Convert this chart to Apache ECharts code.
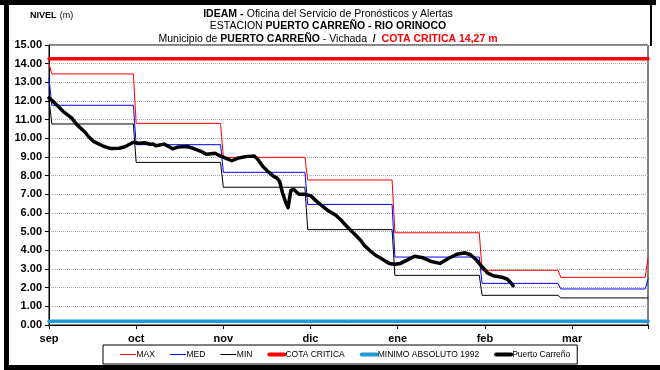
<!DOCTYPE html>
<html>
<head>
<meta charset="utf-8">
<script src="https://cdn.jsdelivr.net/npm/echarts@6/dist/echarts.min.js"></script>
<style>
  html, body { margin: 0; padding: 0; background: #fff; }
  #chart { width: 660px; height: 370px; }
</style>
</head>
<body>
<div id="chart"></div>
<script>
// Month tick labels; the x axis counts days, day 0 = 31 ago, one tick every 31 days
const monthLabels = ['sep', 'oct', 'nov', 'dic', 'ene', 'feb', 'mar'];
// Day index of the first day of each month (sep .. mar) and of 1 abr
const monthStartDays = [1, 31, 62, 92, 123, 154, 182];
const lastDay = 213;

// Monthly historical levels (m)
const maxMonthly = [13.45, 10.80, 8.98, 7.77, 4.94, 2.93, 2.55];
const medMonthly = [11.77, 9.66, 8.18, 6.46, 3.64, 2.23, 1.93];
const minMonthly = [10.77, 8.71, 7.38, 5.11, 2.66, 1.59, 1.45];
// Values on 31 ago and 1 abr
const maxEnds = [14.00, 3.60];
const medEnds = [13.20, 2.45];
const minEnds = [12.10, 1.45];

const cotaCritica = 14.27;
const minimoAbsoluto1992 = 0.20;

// Observed daily level at Puerto Carreño
const carrenoDays = [0, 2, 5, 8, 10, 13, 14, 16, 19, 22, 25, 27, 30, 32, 34, 36, 37, 38, 41, 44,
  46, 49, 51, 54, 56, 59, 61, 63, 65, 67, 70, 73, 74, 76, 78, 80, 81, 82, 83, 84,
  85, 86, 87, 88, 89, 91, 93, 95, 97, 99, 102, 104, 105, 107, 109, 111, 112, 114, 116, 118,
  120, 121, 123, 125, 128, 130, 133, 136, 139, 142, 145, 148, 150, 152, 154, 156, 158, 161, 163, 164, 165];
const carrenoLevels = [12.17, 11.90, 11.45, 11.10, 10.72, 10.30, 10.10, 9.82, 9.60, 9.45, 9.47, 9.55, 9.79, 9.74, 9.76, 9.68, 9.70, 9.60, 9.69, 9.44,
  9.54, 9.56, 9.48, 9.30, 9.15, 9.20, 9.05, 8.93, 8.80, 8.93, 9.02, 9.05, 8.92, 8.50, 8.20, 7.95, 7.88, 7.70, 7.10, 6.65,
  6.28, 7.20, 7.28, 7.12, 7.00, 7.00, 6.93, 6.65, 6.40, 6.15, 5.88, 5.60, 5.42, 5.12, 4.82, 4.50, 4.28, 4.00, 3.75, 3.58,
  3.38, 3.30, 3.25, 3.30, 3.53, 3.68, 3.60, 3.40, 3.30, 3.56, 3.79, 3.87, 3.75, 3.48, 3.12, 2.78, 2.64, 2.56, 2.45, 2.30, 2.10];

// Monthly values held flat over each month
function monthlySteps(monthly, ends) {
  const pts = [[0, ends[0]]];
  monthly.forEach((v, i) => {
    const start = monthStartDays[i];
    const end = i + 1 < monthStartDays.length ? monthStartDays[i + 1] - 1 : lastDay - 1;
    pts.push([start, v], [end, v]);
  });
  pts.push([lastDay, ends[1]]);
  return pts;
}
const flat = v => [[0, v], [lastDay, v]];
const carreno = carrenoDays.map((d, i) => [d, carrenoLevels[i]]);

const sans = "'Liberation Sans', Arial, sans-serif";

const lineSeries = (name, data, color, width, z) => ({
  name, type: 'line', data, symbol: 'none', z,
  lineStyle: { color, width, join: 'round', cap: 'round' },
  itemStyle: { color },
  animation: false
});

const legendItem = (name, width) => ({ name, lineStyle: { width } });

const chart = echarts.init(document.getElementById('chart'), null, { renderer: 'canvas' });
chart.setOption({
  animation: false,
  grid: { left: 49, right: 12, top: 45, bottom: 45, show: true, borderColor: '#000', borderWidth: 1, backgroundColor: 'transparent' },
  xAxis: {
    type: 'value', min: 0, max: lastDay, interval: 31,
    axisLine: { show: true, lineStyle: { color: '#000', width: 1 } },
    axisTick: { show: true, length: 4, lineStyle: { color: '#000' } },
    axisLabel: {
      margin: 8, color: '#000', fontFamily: sans, fontWeight: 'bold', fontSize: 11,
      formatter: v => (v % 31 === 0 && v / 31 < monthLabels.length) ? monthLabels[v / 31] : ''
    },
    splitLine: { show: false }
  },
  yAxis: {
    type: 'value', min: 0, max: 15, interval: 1,
    axisLine: { show: true, lineStyle: { color: '#000', width: 1 } },
    axisTick: { show: true, length: 4, lineStyle: { color: '#000' } },
    axisLabel: { margin: 7, color: '#000', fontFamily: sans, fontWeight: 'bold', fontSize: 11, formatter: v => v.toFixed(2) },
    splitLine: { show: true, lineStyle: { color: '#a8a8a8', type: 'dotted', width: 1 } }
  },
  legend: {
    left: 103, top: 345,
    padding: [5, 7, 5, 17],
    itemWidth: 15, itemHeight: 8, itemGap: 15,
    borderColor: '#000', borderWidth: 1, borderRadius: 0,
    backgroundColor: '#fff',
    itemStyle: { opacity: 0 },
    textStyle: { fontFamily: sans, fontSize: 8.5, color: '#000', padding: [0, 0, 0, -4] },
    data: [
      legendItem('MAX', 1), legendItem('MED', 1), legendItem('MIN', 1),
      legendItem('COTA CRITICA', 4), legendItem('MINIMO ABSOLUTO 1992', 4), legendItem('Puerto Carreño', 4)
    ]
  },
  series: [
    lineSeries('MAX', monthlySteps(maxMonthly, maxEnds), '#ff0000', 1, 2),
    lineSeries('MED', monthlySteps(medMonthly, medEnds), '#0000ff', 1, 2),
    lineSeries('MIN', monthlySteps(minMonthly, minEnds), '#000000', 1, 2),
    lineSeries('COTA CRITICA', flat(cotaCritica), '#ff0000', 3.5, 3),
    lineSeries('MINIMO ABSOLUTO 1992', flat(minimoAbsoluto1992), '#1e9ad6', 3.5, 3),
    lineSeries('Puerto Carreño', carreno, '#000000', 3.5, 4)
  ],
  graphic: [
    // outer frame
    { type: 'rect', shape: { x: 0, y: 0, width: 656, height: 5 }, style: { fill: '#000' }, silent: true },
    { type: 'rect', shape: { x: 4, y: 0, width: 5, height: 370 }, style: { fill: '#000' }, silent: true },
    { type: 'rect', shape: { x: 4, y: 365, width: 656, height: 5 }, style: { fill: '#000' }, silent: true },
    { type: 'rect', shape: { x: 650, y: 0, width: 2, height: 46 }, style: { fill: '#000' }, silent: true },
    {
      type: 'text', left: 30, top: 10,
      style: {
        text: '{b|NIVEL} {r|(m)}',
        rich: {
          b: { font: "bold 9px " + sans, fill: '#000' },
          r: { font: "9px " + sans, fill: '#000' }
        }
      }
    },
    {
      type: 'text', x: 328, y: 8,
      style: {
        align: 'center',
        text: '{b|IDEAM -} {r|Oficina del Servicio de Pronósticos y Alertas}\n' +
              '{r|ESTACION }{b|PUERTO CARREÑO - RIO ORINOCO}\n' +
              '{r|Municipio de }{b|PUERTO CARREÑO}{r| - Vichada }{b| /  }{red|COTA CRITICA 14,27 m}',
        rich: {
          b: { font: "bold 10.5px " + sans, fill: '#000', lineHeight: 12.3, align: 'center' },
          r: { font: "10.5px " + sans, fill: '#000', lineHeight: 12.3, align: 'center' },
          red: { font: "bold 10.5px " + sans, fill: '#ff0000', lineHeight: 12.3, align: 'center' }
        }
      }
    }
  ]
});
</script>
</body>
</html>
